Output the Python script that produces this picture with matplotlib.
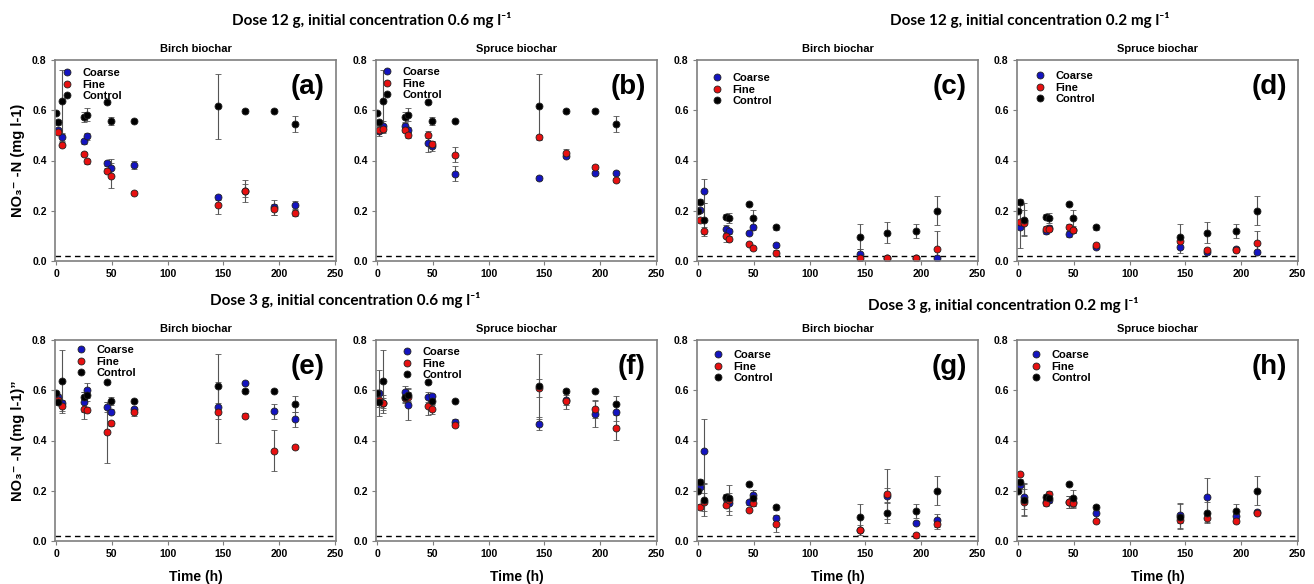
import matplotlib
matplotlib.use("Agg")
import matplotlib.pyplot as plt

plt.rcParams["font.family"] = ["Liberation Sans", "DejaVu Sans"]
plt.rcParams["font.weight"] = "bold"

# sampling times (h)
t_char = [2, 5, 25, 28, 46, 49, 70, 145, 169, 195, 214]
t_ctrl = [0, 2, 5, 25, 28, 46, 49, 70, 145, 169, 195, 214]

# controls
ctrl_06 = [0.59, 0.553, 0.635, 0.575, 0.582, 0.631, 0.558, 0.558, 0.615, 0.597, 0.598, 0.544]
ctrl_06_err = [0.005, 0.01, 0.125, 0.02, 0.025, 0.005, 0.015, 0.005, 0.13, 0.008, 0.005, 0.032]
ctrl_02 = [0.2, 0.236, 0.165, 0.177, 0.172, 0.225, 0.171, 0.134, 0.097, 0.112, 0.119, 0.2]
ctrl_02_err = [0.005, 0.01, 0.065, 0.01, 0.02, 0.005, 0.032, 0.01, 0.05, 0.042, 0.027, 0.058]

# (a) dose 12 g, 0.6, birch
a_coarse = [0.52, 0.492, 0.476, 0.496, 0.389, 0.372, 0.383, 0.253, 0.28, 0.213, 0.223]
a_coarse_err = [0.01, 0.015, 0.01, 0.015, 0.01, 0.035, 0.015, 0.01, 0.025, 0.03, 0.015]
a_fine = [0.515, 0.463, 0.427, 0.397, 0.36, 0.34, 0.272, 0.221, 0.279, 0.205, 0.192]
a_fine_err = [0.01, 0.01, 0.008, 0.01, 0.01, 0.05, 0.005, 0.035, 0.045, 0.02, 0.012]
# (b) dose 12 g, 0.6, spruce
b_coarse = [0.519, 0.536, 0.536, 0.523, 0.469, 0.456, 0.347, 0.329, 0.419, 0.352, 0.349]
b_coarse_err = [0.02, 0.02, 0.015, 0.01, 0.035, 0.02, 0.03, 0.008, 0.008, 0.008, 0.008]
b_fine = [0.52, 0.527, 0.523, 0.5, 0.503, 0.467, 0.423, 0.493, 0.429, 0.376, 0.323]
b_fine_err = [0.01, 0.015, 0.01, 0.01, 0.015, 0.01, 0.03, 0.01, 0.015, 0.008, 0.008]
# (c) dose 12 g, 0.2, birch
c_coarse = [0.203, 0.28, 0.127, 0.119, 0.111, 0.134, 0.064, 0.028, 0.01, 0.01, 0.01]
c_coarse_err = [0.005, 0.048, 0.015, 0.01, 0.005, 0.01, 0.008, 0.02, 0.005, 0.005, 0.005]
c_fine = [0.163, 0.121, 0.1, 0.088, 0.068, 0.05, 0.031, 0.012, 0.01, 0.01, 0.046]
c_fine_err = [0.005, 0.015, 0.025, 0.01, 0.005, 0.005, 0.012, 0.005, 0.005, 0.005, 0.075]
# (d) dose 12 g, 0.2, spruce
d_coarse = [0.137, 0.16, 0.118, 0.133, 0.109, 0.122, 0.056, 0.056, 0.037, 0.047, 0.037]
d_coarse_err = [0.085, 0.01, 0.01, 0.01, 0.012, 0.01, 0.006, 0.025, 0.01, 0.008, 0.006]
d_fine = [0.155, 0.153, 0.129, 0.129, 0.137, 0.122, 0.062, 0.08, 0.043, 0.043, 0.073]
d_fine_err = [0.01, 0.05, 0.01, 0.01, 0.01, 0.01, 0.006, 0.01, 0.008, 0.008, 0.045]
# (e) dose 3 g, 0.6, birch
e_coarse = [0.574, 0.551, 0.554, 0.6, 0.534, 0.514, 0.525, 0.534, 0.628, 0.516, 0.485]
e_coarse_err = [0.01, 0.01, 0.04, 0.03, 0.02, 0.01, 0.01, 0.015, 0.005, 0.03, 0.03]
e_fine = [0.561, 0.538, 0.525, 0.522, 0.432, 0.468, 0.514, 0.512, 0.498, 0.36, 0.373]
e_fine_err = [0.01, 0.02, 0.04, 0.01, 0.12, 0.01, 0.015, 0.12, 0.01, 0.08, 0.005]
# (f) dose 3 g, 0.6, spruce
f_coarse = [0.589, 0.55, 0.592, 0.543, 0.572, 0.576, 0.475, 0.467, 0.563, 0.507, 0.513]
f_coarse_err = [0.09, 0.02, 0.025, 0.06, 0.02, 0.01, 0.01, 0.025, 0.02, 0.055, 0.035]
f_fine = [0.563, 0.55, 0.57, 0.574, 0.537, 0.524, 0.46, 0.609, 0.559, 0.524, 0.451]
f_fine_err = [0.03, 0.03, 0.02, 0.02, 0.035, 0.02, 0.005, 0.035, 0.035, 0.035, 0.05]
# (g) dose 3 g, 0.2, birch
g_coarse = [0.215, 0.357, 0.171, 0.151, 0.155, 0.182, 0.092, 0.045, 0.18, 0.073, 0.082]
g_coarse_err = [0.01, 0.13, 0.01, 0.03, 0.01, 0.02, 0.01, 0.005, 0.03, 0.005, 0.025]
g_fine = [0.136, 0.155, 0.145, 0.162, 0.125, 0.153, 0.066, 0.045, 0.186, 0.023, 0.069]
g_fine_err = [0.01, 0.035, 0.01, 0.06, 0.005, 0.015, 0.03, 0.02, 0.1, 0.01, 0.02]
# (h) dose 3 g, 0.2, spruce
h_coarse = [0.224, 0.177, 0.155, 0.165, 0.155, 0.155, 0.112, 0.102, 0.177, 0.099, 0.115]
h_coarse_err = [0.01, 0.05, 0.01, 0.01, 0.025, 0.02, 0.03, 0.05, 0.075, 0.01, 0.005]
h_fine = [0.267, 0.155, 0.151, 0.188, 0.155, 0.152, 0.079, 0.085, 0.091, 0.079, 0.112]
h_fine_err = [0.005, 0.05, 0.01, 0.01, 0.025, 0.02, 0.005, 0.015, 0.015, 0.008, 0.005]

detection_limit = 0.02

panels = [
    ("(a)", "Birch biochar", a_coarse, a_coarse_err, a_fine, a_fine_err, ctrl_06, ctrl_06_err),
    ("(b)", "Spruce biochar", b_coarse, b_coarse_err, b_fine, b_fine_err, ctrl_06, ctrl_06_err),
    ("(c)", "Birch biochar", c_coarse, c_coarse_err, c_fine, c_fine_err, ctrl_02, ctrl_02_err),
    ("(d)", "Spruce biochar", d_coarse, d_coarse_err, d_fine, d_fine_err, ctrl_02, ctrl_02_err),
    ("(e)", "Birch biochar", e_coarse, e_coarse_err, e_fine, e_fine_err, ctrl_06, ctrl_06_err),
    ("(f)", "Spruce biochar", f_coarse, f_coarse_err, f_fine, f_fine_err, ctrl_06, ctrl_06_err),
    ("(g)", "Birch biochar", g_coarse, g_coarse_err, g_fine, g_fine_err, ctrl_02, ctrl_02_err),
    ("(h)", "Spruce biochar", h_coarse, h_coarse_err, h_fine, h_fine_err, ctrl_02, ctrl_02_err),
]

W, H = 1314, 584
fig = plt.figure(figsize=(W / 100, H / 100), dpi=100)

col_left = [55, 376, 697, 1017]
row_top = [60, 340]
ax_w, ax_h = 281, 201
frame = "#7f7f7f"
# legend marker offset from the top-left corner of each panel, px
legend_px = [(12, 12), (11, 11), (20, 17), (23, 15), (26, 9), (31, 11), (21, 14), (19, 14)]

for i, (tag, name, cv, ce, fv, fe, kv, ke) in enumerate(panels):
    r, c = divmod(i, 4)
    x0 = col_left[c] / W
    y0 = 1 - (row_top[r] + ax_h) / H
    ax = fig.add_axes([x0, y0, ax_w / W, ax_h / H])

    style = dict(fmt="o", ms=5, mec="#222222", mew=0.6, ecolor="#555555",
                 elinewidth=0.8, capsize=2.2, capthick=0.8)
    ax.errorbar(t_char, cv, yerr=ce, mfc="#1414c0", label="Coarse", **style)
    ax.errorbar(t_char, fv, yerr=fe, mfc="#e81010", label="Fine", **style)
    ax.errorbar(t_ctrl, kv, yerr=ke, mfc="black", label="Control", **style)
    ax.axhline(detection_limit, color="black", ls=(0, (4, 3)), lw=1)

    ax.set_xlim(-1, 251)
    ax.set_ylim(0, 0.8)
    ax.set_xticks([0, 50, 100, 150, 200, 250])
    ax.set_yticks([0.0, 0.2, 0.4, 0.6, 0.8])
    ax.set_yticklabels(["0.0", "0.2", "0.4", "0.6", "0.8"])
    ax.tick_params(direction="out", length=3, width=0.8, color=frame,
                   labelsize=7.5, pad=3)
    for lab in ax.get_xticklabels() + ax.get_yticklabels():
        lab.set_fontweight("bold")
    for sp in ax.spines.values():
        sp.set_color(frame)
        sp.set_linewidth(1.2)

    ax.set_title(name, fontsize=8, fontweight="bold", pad=6)
    ax.text(0.96, 0.93, tag, transform=ax.transAxes, ha="right", va="top",
            fontsize=20, fontweight="bold")

    dx, dy = legend_px[i]
    handles, labels = ax.get_legend_handles_labels()
    handles = [h[0] for h in handles]
    ax.legend(handles, labels, loc="upper left",
              bbox_to_anchor=((dx - 16) / ax_w, 1 - (dy - 14) / ax_h),
              frameon=False, handletextpad=0.9, handlelength=1.0,
              labelspacing=0.15, prop={"weight": "bold", "size": 8})

    if c == 0:
        ylab = "NO₃⁻ -N (mg l-1)" if r == 0 else "NO₃⁻ -N (mg l-1)”"
        ax.set_ylabel(ylab, fontsize=10.5, fontweight="bold", labelpad=5)
    if r == 1:
        ax.set_xlabel("Time (h)", fontsize=10, fontweight="bold", labelpad=8)

title_font = ["Lato", "DejaVu Sans"]
fig.text(372 / W, 1 - 20 / H, "Dose 12 g, initial concentration 0.6 mg l⁻¹",
         ha="center", va="center", fontsize=11, fontweight="bold", family=title_font)
fig.text(1030 / W, 1 - 20 / H, "Dose 12 g, initial concentration 0.2 mg l⁻¹",
         ha="center", va="center", fontsize=11, fontweight="bold", family=title_font)
fig.text(345 / W, 1 - 300 / H, "Dose 3 g, initial concentration 0.6 mg l⁻¹",
         ha="center", va="center", fontsize=11, fontweight="bold", family=title_font)
fig.text(1003 / W, 1 - 305 / H, "Dose 3 g, initial concentration 0.2 mg l⁻¹",
         ha="center", va="center", fontsize=11, fontweight="bold", family=title_font)

fig.savefig("out.png", dpi=100)
